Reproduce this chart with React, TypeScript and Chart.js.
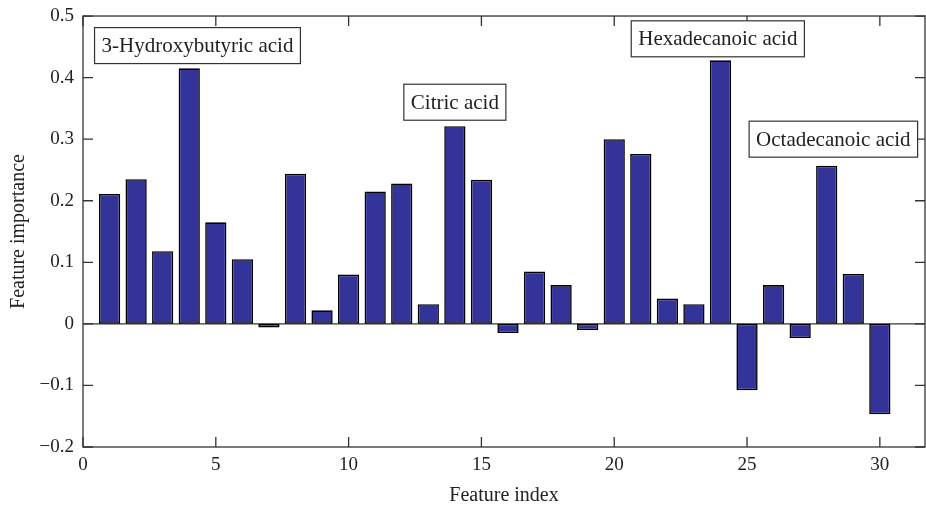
import React, { useEffect, useRef } from "react";
import { Chart, registerables } from "chart.js";

Chart.register(...registerables);

const featureIndex = [1, 2, 3, 4, 5, 6, 7, 8, 9, 10, 11, 12, 13, 14, 15, 16, 17, 18, 19, 20, 21, 22, 23, 24, 25, 26, 27, 28, 29, 30];
const importance = [
  0.211, 0.235, 0.118, 0.415, 0.165, 0.105, -0.006, 0.244, 0.022, 0.08,
  0.215, 0.228, 0.032, 0.321, 0.234, -0.015, 0.085, 0.063, -0.01, 0.3,
  0.276, 0.041, 0.032, 0.428, -0.108, 0.063, -0.023, 0.257, 0.081, -0.147,
];
const annotationLabels = ["3-Hydroxybutyric acid", "Citric acid", "Hexadecanoic acid", "Octadecanoic acid"];
const annotationX = [4.31, 14.0, 23.9, 28.25];
const annotationY = [0.452, 0.36, 0.463, 0.3];

const FONT = "'Liberation Serif', 'Times New Roman', serif";
const TEXT = "#222222";
const AXIS = "#333333";

const fmtY = (v: number) => {
  const r = Math.round(v * 10) / 10;
  if (r === 0) return "0";
  return r < 0 ? "\u2212" + Math.abs(r).toFixed(1) : r.toFixed(1);
};

const framePlugin = {
  id: "frame",
  beforeDatasetsDraw(chart: any) {
    const { ctx, chartArea: a, scales } = chart;
    const y0 = scales.y.getPixelForValue(0);
    ctx.save();
    ctx.strokeStyle = AXIS;
    ctx.lineWidth = 1.3;
    ctx.beginPath();
    ctx.moveTo(a.left, y0);
    ctx.lineTo(a.right, y0);
    ctx.stroke();
    ctx.restore();
  },
  afterDatasetsDraw(chart: any) {
    const { ctx, chartArea: a, scales } = chart;
    ctx.save();
    ctx.strokeStyle = AXIS;
    ctx.lineWidth = 1.3;
    ctx.strokeRect(a.left, a.top, a.right - a.left, a.bottom - a.top);
    const len = 10;
    ctx.beginPath();
    scales.x.ticks.forEach((t: any) => {
      const px = scales.x.getPixelForValue(t.value);
      ctx.moveTo(px, a.bottom);
      ctx.lineTo(px, a.bottom - len);
      ctx.moveTo(px, a.top);
      ctx.lineTo(px, a.top + len);
    });
    scales.y.ticks.forEach((t: any) => {
      const py = scales.y.getPixelForValue(t.value);
      ctx.moveTo(a.left, py);
      ctx.lineTo(a.left + len, py);
      ctx.moveTo(a.right, py);
      ctx.lineTo(a.right - len, py);
    });
    ctx.stroke();

    ctx.font = `21px ${FONT}`;
    ctx.textAlign = "center";
    ctx.textBaseline = "middle";
    annotationLabels.forEach((label, i) => {
      const cx = scales.x.getPixelForValue(annotationX[i]);
      const cy = scales.y.getPixelForValue(annotationY[i]);
      const w = ctx.measureText(label).width + 14;
      const h = 36;
      ctx.fillStyle = "#ffffff";
      ctx.fillRect(cx - w / 2, cy - h / 2, w, h);
      ctx.strokeStyle = AXIS;
      ctx.lineWidth = 1.2;
      ctx.strokeRect(cx - w / 2, cy - h / 2, w, h);
      ctx.fillStyle = TEXT;
      ctx.fillText(label, cx, cy + 1);
    });
    ctx.restore();
  },
};

export default function App() {
  const ref = useRef<HTMLCanvasElement | null>(null);
  useEffect(() => {
    document.body.style.margin = "0";
    if (!ref.current) return;
    const chart = new Chart(ref.current, {
      type: "bar",
      data: {
        datasets: [
          {
            data: featureIndex.map((x, i) => ({ x, y: importance[i] })),
            backgroundColor: "#333399",
            borderColor: "#000000",
            borderWidth: 1.6,
            borderSkipped: false,
            barPercentage: 0.8,
            categoryPercentage: 1.0,
          },
        ],
      },
      options: {
        animation: false,
        responsive: false,
        devicePixelRatio: 1,
        layout: { padding: { top: 16, right: 1, left: 0, bottom: 0 } },
        plugins: { legend: { display: false }, tooltip: { enabled: false } },
        scales: {
          x: {
            type: "linear",
            min: 0,
            max: 31.7,
            offset: false,
            grid: { display: false, drawTicks: false },
            border: { display: false },
            ticks: {
              stepSize: 5,
              includeBounds: false,
              padding: 7,
              color: TEXT,
              font: { family: FONT, size: 19 },
              callback: (v: any) => String(v),
            },
            title: {
              display: true,
              text: "Feature index",
              color: TEXT,
              font: { family: FONT, size: 20 },
              padding: { top: 0, bottom: 0 },
            },
            afterFit: (s: any) => {
              s.height = 61;
            },
          },
          y: {
            min: -0.2,
            max: 0.5,
            grid: { display: false, drawTicks: false },
            border: { display: false },
            ticks: {
              stepSize: 0.1,
              padding: 9,
              color: TEXT,
              font: { family: FONT, size: 19, lineHeight: 0.74 },
              callback: (v: any) => fmtY(Number(v)),
            },
            title: {
              display: true,
              text: "Feature importance",
              color: TEXT,
              font: { family: FONT, size: 20 },
              padding: { top: 7, bottom: 0 },
            },
            afterFit: (s: any) => {
              s.width = 83;
            },
          },
        },
      },
      plugins: [framePlugin],
    } as any);
    return () => chart.destroy();
  }, []);
  return (
    <div style={{ position: "absolute", left: 0, top: 0, width: 926, height: 508, background: "#fff" }}>
      <canvas ref={ref} width={926} height={508} />
    </div>
  );
}
